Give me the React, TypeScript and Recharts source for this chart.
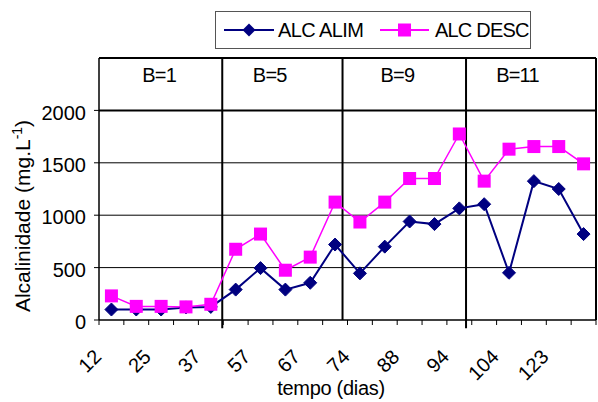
import { LineChart, Line, XAxis, YAxis, CartesianGrid, ReferenceLine, ReferenceDot, Legend } from 'recharts';

// dias mostrados no eixo (um a cada dois pontos)
const dayLabels = ['12', '25', '37', '57', '67', '74', '88', '94', '104', '123'];

const alcAlim = [100, 100, 100, 120, 125, 290, 495, 290, 355, 720, 445, 700, 940, 915, 1065, 1105, 450, 1325, 1250, 820];
const alcDesc = [230, 130, 130, 125, 150, 675, 820, 475, 600, 1125, 935, 1125, 1350, 1350, 1775, 1325, 1630, 1655, 1655, 1490];

// divisórias entre fases (em unidades de índice do ponto)
const phaseBreaks = [4.46, 9.3, 14.27];
const phaseLabels = ['B=1', 'B=5', 'B=9', 'B=11'];
const phaseLabelPos = [1.92, 6.37, 11.51, 16.34];

const yTicks = [0, 500, 1000, 1500, 2000];

const NAVY = '#000080';
const MAGENTA = '#FF00FF';
const FONT = '"Liberation Sans", Arial, sans-serif';

const data = alcAlim.map((v, i) => ({ i, alim: v, desc: alcDesc[i] }));
const xTicks = Array.from({ length: alcAlim.length + 1 }, (_, k) => k - 0.5);

const Diamond = (props: any) => {
  const { cx, cy } = props;
  if (cx == null || cy == null) return null;
  const r = 6.5;
  return <polygon points={`${cx},${cy - r} ${cx + r},${cy} ${cx},${cy + r} ${cx - r},${cy}`} fill={NAVY} stroke={NAVY} />;
};

const Square = (props: any) => {
  const { cx, cy } = props;
  if (cx == null || cy == null) return null;
  return <rect x={cx - 6.5} y={cy - 6.5} width={13} height={13} fill={MAGENTA} />;
};

const XTick = (props: any) => {
  const { x, y, payload } = props;
  const idx = payload.value + 0.5;
  if (idx % 2 !== 0 || idx / 2 >= dayLabels.length) return null;
  const ax = x + 3.5;
  const ay = y + 33;
  return (
    <text x={ax} y={ay} transform={`rotate(-45, ${ax}, ${ay})`} textAnchor="end" fontSize={20} fontFamily={FONT} fill="#000">
      {dayLabels[idx / 2]}
    </text>
  );
};

const LegendBox = () => (
  <div style={{ width: 316, height: 38, border: '1px solid #555', boxSizing: 'border-box', background: '#fff', position: 'relative' }}>
    <svg width={316} height={38} style={{ position: 'absolute', left: 0, top: 0 }}>
      <line x1={8} x2={58} y1={18} y2={18} stroke={NAVY} strokeWidth={2} />
      <polygon points="33,11.5 39.5,18 33,24.5 26.5,18" fill={NAVY} />
      <text x={62} y={25} fontSize={20} fontFamily={FONT} letterSpacing={-0.6}>ALC ALIM</text>
      <line x1={164} x2={213} y1={18} y2={18} stroke={MAGENTA} strokeWidth={2} />
      <rect x={182} y={11.5} width={13} height={13} fill={MAGENTA} />
      <text x={219} y={25} fontSize={20} fontFamily={FONT} letterSpacing={-0.8}>ALC DESC</text>
    </svg>
  </div>
);

export default function App() {
  return (
    <div style={{ position: 'fixed', left: 0, top: 0, width: 598, height: 402, background: '#fff' }}>
      <LineChart width={598} height={402} data={data} margin={{ top: 58, right: 2, left: 0, bottom: 0 }}>
        <CartesianGrid horizontal vertical={false} stroke="#000" strokeWidth={1} horizontalValues={[500, 1000, 1500]} />
        <XAxis
          dataKey="i"
          type="number"
          domain={[-0.5, 19.5]}
          ticks={xTicks}
          interval={0}
          height={82}
          tick={<XTick />}
          tickSize={5}
          tickMargin={0}
          tickLine={{ stroke: '#000' }}
          axisLine={{ stroke: '#000', strokeWidth: 1.5 }}
          label={{
            content: () => (
              <text x={331} y={395} textAnchor="middle" fontSize={20} fontFamily={FONT} letterSpacing={-0.3}>
                tempo (dias)
              </text>
            ),
          }}
        />
        <YAxis
          type="number"
          domain={[0, 2500]}
          ticks={yTicks}
          width={99}
          tickSize={5}
          tickMargin={8}
          tick={{ fill: '#000', fontSize: 20, fontFamily: FONT, dy: 2 }}
          tickLine={{ stroke: '#000' }}
          axisLine={{ stroke: '#000', strokeWidth: 1.5 }}
          label={{
            content: () => (
              <text x={30} y={216} transform="rotate(-90, 30, 216)" textAnchor="middle" fontSize={21} fontFamily={FONT}>
                Alcalinidade (mg.L<tspan dy={-8} fontSize={14}>-1</tspan><tspan dy={8}>)</tspan>
              </text>
            ),
          }}
        />
        <ReferenceLine y={2000} stroke="#000" strokeWidth={2} />
        <ReferenceLine y={2500} stroke="#000" strokeWidth={2} />
        <ReferenceLine x={19.5} stroke="#000" strokeWidth={2} />
        {phaseBreaks.map((b, k) => (
          <ReferenceLine
            key={b}
            segment={[{ x: b, y: k === 1 ? 0 : -78 }, { x: b, y: 2500 }]}
            stroke="#000"
            strokeWidth={2}
            ifOverflow="visible"
          />
        ))}
        {phaseLabels.map((t, k) => (
          <ReferenceDot
            key={t}
            x={phaseLabelPos[k]}
            y={2340}
            r={0}
            stroke="none"
            fill="none"
            label={{ value: t, position: 'center', fontSize: 20, fontFamily: FONT, fill: '#000', letterSpacing: -0.8 }}
          />
        ))}
        <Legend
          layout="vertical"
          align="center"
          verticalAlign="middle"
          wrapperStyle={{ top: 11, left: 215, width: 316, height: 38 }}
          content={() => <LegendBox />}
        />
        <Line dataKey="alim" name="ALC ALIM" stroke={NAVY} strokeWidth={2} dot={<Diamond />} isAnimationActive={false} />
        <Line dataKey="desc" name="ALC DESC" stroke={MAGENTA} strokeWidth={1.5} dot={<Square />} isAnimationActive={false} />
      </LineChart>
    </div>
  );
}
